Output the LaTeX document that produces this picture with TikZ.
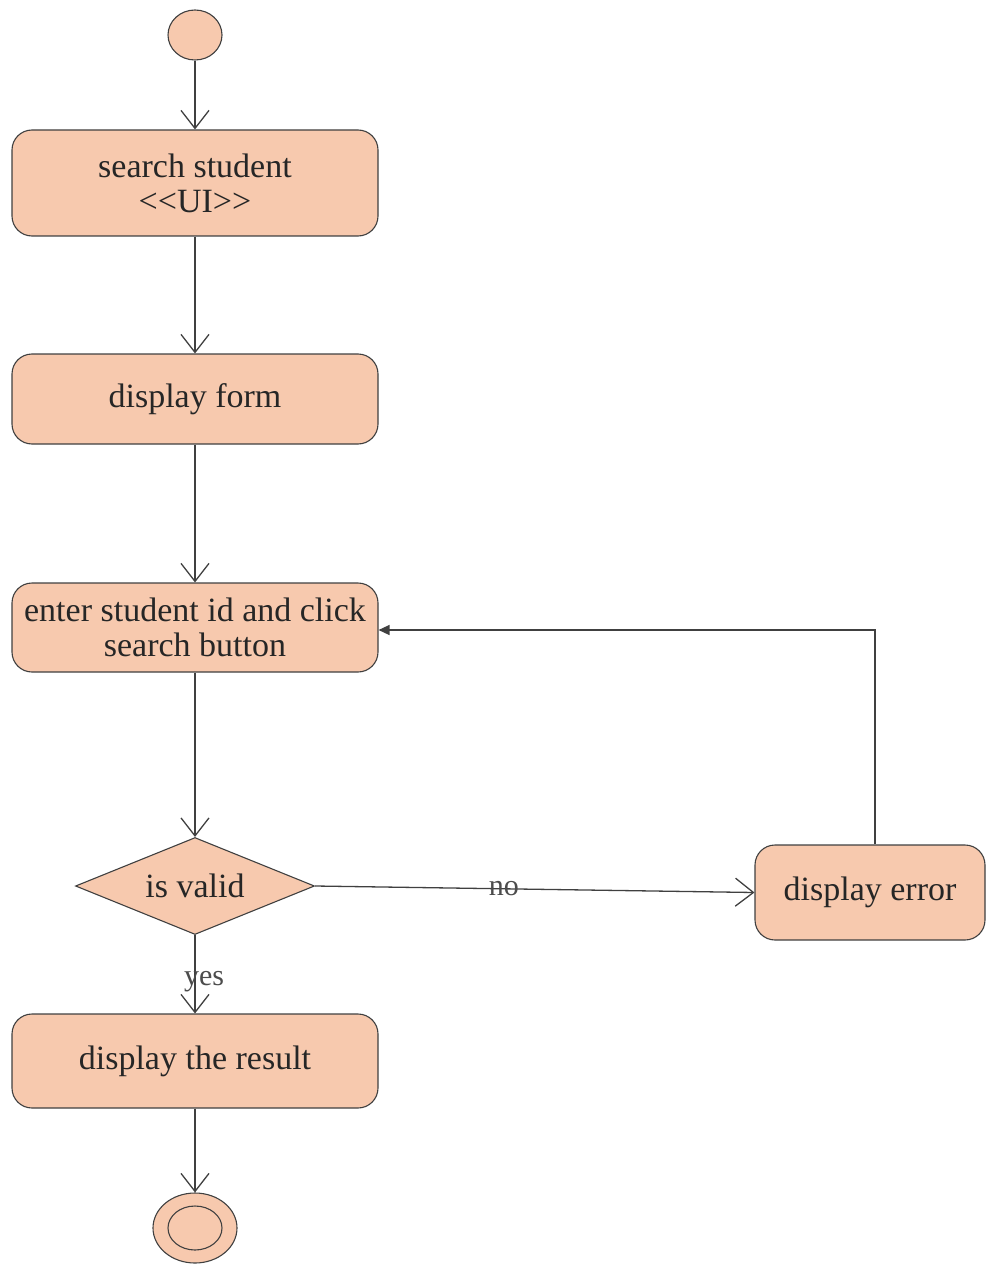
\documentclass[tikz,border=0pt]{standalone}
\usepackage{fontspec}
\setmainfont{Liberation Serif}
\usetikzlibrary{arrows.meta,shapes.geometric}
\definecolor{peach}{HTML}{F7C9AE}
\definecolor{edge}{HTML}{404040}
\begin{document}
\begin{tikzpicture}[x=1pt,y=-1pt,
  act/.style={draw=edge,fill=peach,line width=1.1pt,rounded corners=20pt,minimum width=366pt,align=center,font=\fontsize{34}{38}\selectfont,text=black!85},
  flow/.style={draw=edge,line width=1.3pt,-{Straight Barb[length=18pt,width=28pt,line width=1.3pt]}},
  back/.style={draw=edge,line width=1.3pt,-{Triangle[length=11pt,width=10pt]}},
  lbl/.style={font=\fontsize{30}{32}\selectfont,text=black!70,inner sep=0pt}]
\useasboundingbox (0,0) rectangle (985,1265);
\node[draw=edge,fill=peach,line width=1.1pt,ellipse,minimum width=54pt,minimum height=50pt,inner sep=0pt] (start) at (195,35) {};
\node[act,minimum height=106pt] (s1) at (195,183) {search student\\[-3pt]<{}<UI>{}>};
\node[act,minimum height=90pt] (s2) at (195,399) {display form};
\node[act,minimum height=89pt] (s3) at (195,627.5) {enter student id and click\\[-3pt]search button};
\node[draw=edge,fill=peach,line width=1.1pt,diamond,aspect=2.46,minimum width=239pt,minimum height=97pt,inner sep=0pt,font=\fontsize{34}{38}\selectfont,text=black!85] (d) at (195,886) {is valid};
\node[act,minimum width=230pt,minimum height=95pt] (err) at (870,892.5) {display error};
\node[act,minimum height=94pt] (s5) at (195,1061) {display the result};
\node[draw=edge,fill=peach,line width=1.1pt,ellipse,minimum width=84pt,minimum height=70pt,inner sep=0pt] (end) at (195,1228) {};
\node[draw=edge,line width=1.1pt,ellipse,minimum width=54pt,minimum height=44pt,inner sep=0pt] (endin) at (195,1228) {};
\draw[flow] (start) -- (s1);
\draw[flow] (s1) -- (s2);
\draw[flow] (s2) -- (s3);
\draw[flow] (s3) -- (d.north);
\draw[flow] (d.south) -- node[lbl,pos=0.6,xshift=9pt]{yes} (s5);
\draw[flow] (d.east) -- node[lbl,pos=0.43]{no} (err.west);
\draw[flow] (s5) -- (end);
\coordinate (corner) at (875,630);
\draw[back] (err.north -| corner) -- (corner) -- (s3.east |- corner);
\end{tikzpicture}
\end{document}
